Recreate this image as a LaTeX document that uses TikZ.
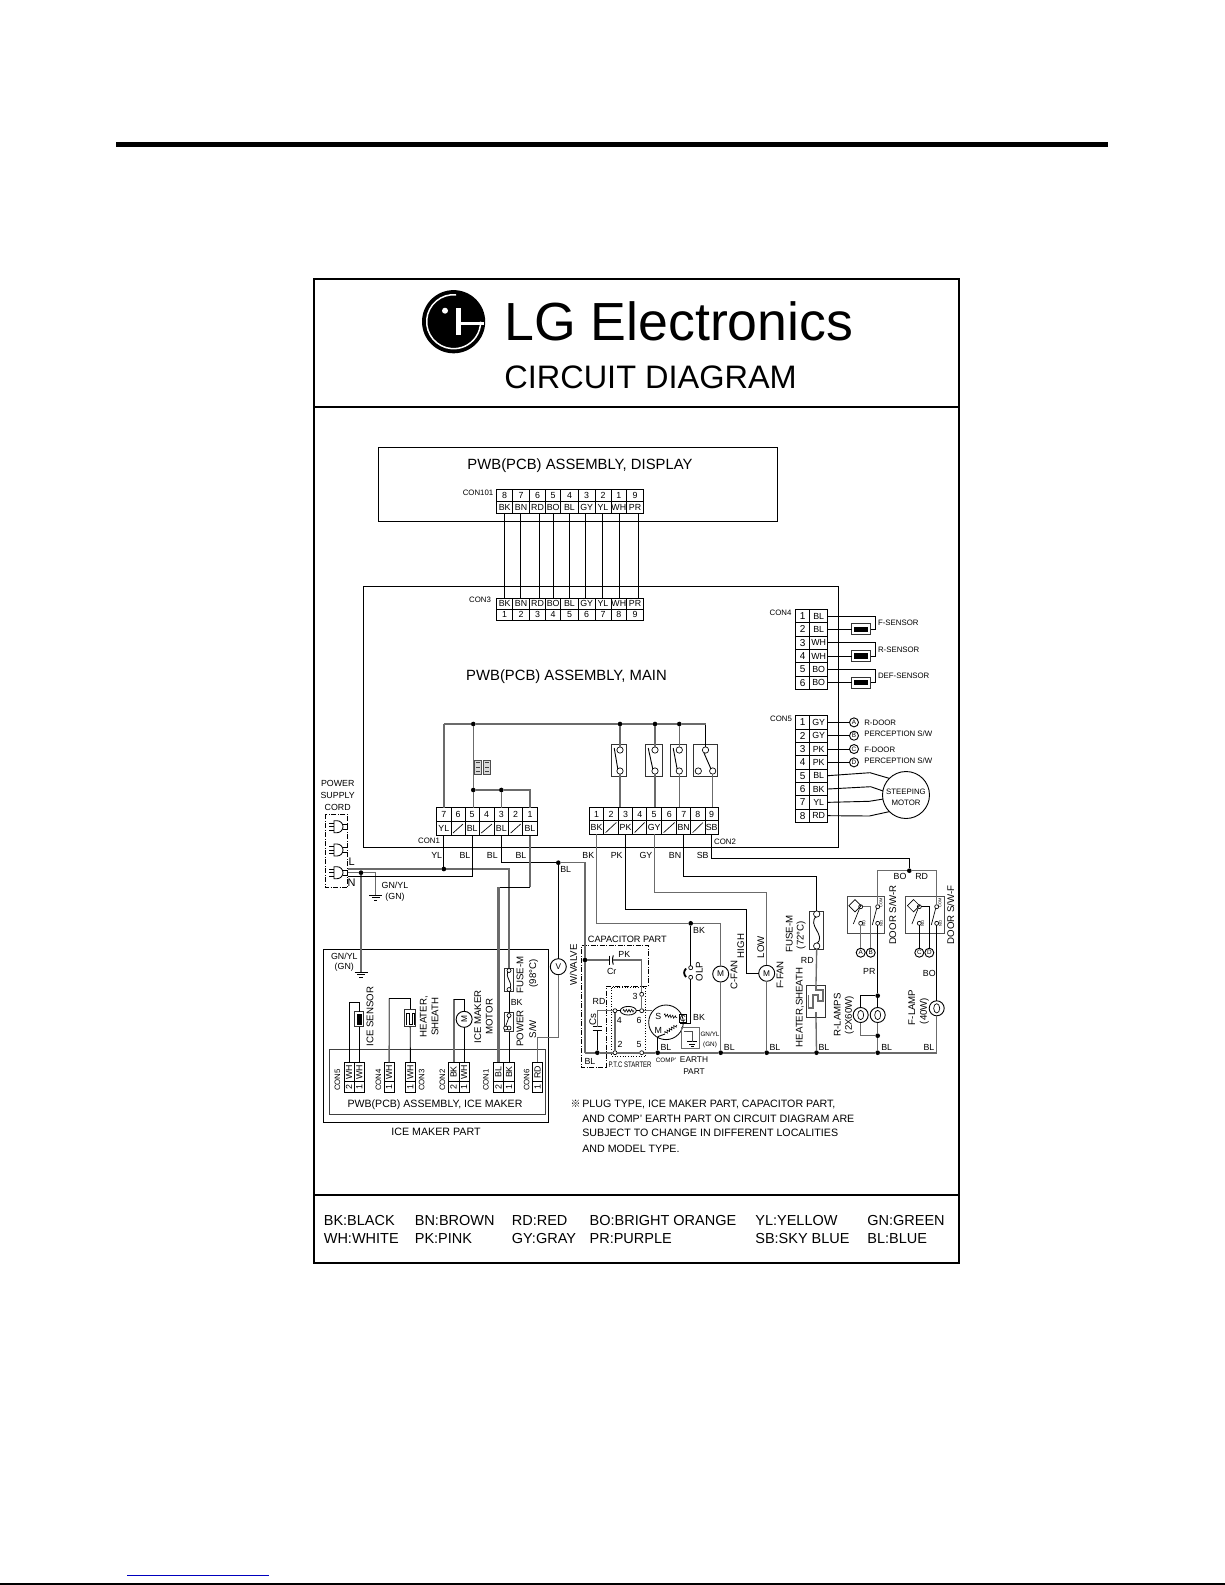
\documentclass[tikz,border=0pt]{standalone}
\usepackage{fontspec}
\setmainfont{Liberation Sans}
\newfontfamily\cjk{Noto Sans CJK SC}
\usepackage{tikz}
\usetikzlibrary{positioning, shapes.geometric, decorations.pathmorphing}
\def\pxu{0.6pt}
\definecolor{wiregray}{gray}{0.42}
\def\fs#1{\fontsize{#1pt}{#1pt}\selectfont}

\begin{document}
\begin{tikzpicture}[x=0.6pt, y=-0.6pt]
	\tikzstyle{wire}=[draw=black, line width=0.55pt]
	\tikzstyle{gwire}=[draw=wiregray, line width=0.8pt]
	\tikzstyle{gthick}=[draw=wiregray, line width=1.3pt]
	\tikzstyle{frame}=[draw=black, line width=1.2pt]
	\tikzstyle{board}=[draw=black, line width=0.6pt, inner sep=0pt, outer sep=0pt]
	\tikzstyle{pin cell}=[draw=black, line width=0.5pt, inner sep=0pt, outer sep=0pt, font=\fs{5.3}]
	\tikzstyle{jdot}=[circle, fill=black, inner sep=0pt, outer sep=0pt, minimum size=2.8pt]
	\tikzstyle{contact}=[circle, draw=black, fill=white, line width=0.4pt, inner sep=0pt, outer sep=0pt, minimum size=2.4pt]
	\tikzstyle{swcontact}=[contact, minimum size=3.8pt]
	\tikzstyle{load}=[circle, draw=black, fill=white, line width=0.55pt, inner sep=0pt, outer sep=0pt, minimum size=9.6pt, font=\fs{5}]
	\tikzstyle{letter}=[load, minimum size=5.4pt, font=\fs{3.8}]
	\tikzstyle{devbox}=[draw=black!80, fill=white, line width=0.5pt, inner sep=0pt, outer sep=0pt]
	\tikzstyle{lab}=[inner sep=0pt, text depth=0pt, font=\fs{5.3}]
	\tikzstyle{mid}=[inner sep=0pt, text depth=0pt, font=\fs{5.8}]
	\tikzstyle{tag}=[inner sep=0pt, text depth=0pt, font=\fs{4.7}]
	\tikzstyle{big}=[inner sep=0pt, text depth=0pt, font=\fs{8.9}]
	\tikzstyle{serp}=[draw=wiregray, line width=0.7pt]
	\tikzset{squiggle/.style={decorate, decoration={zigzag, amplitude=0.8pt, segment length=1.6pt}, line width=0.35pt}}

	\useasboundingbox (0,0) rectangle (1225,1585);

	% Page rules
	\fill (116,141.5) rectangle (1108,146.5);
	\draw[draw={rgb,255:red,0;green,0;blue,190}, line width=0.7pt] (127,1575.3) -- (269,1575.3);
	\draw[line width=1pt] (0,1584) -- (1225,1584);

	% Outer frame and its dividers
	\draw[frame] (314,279) rectangle (959,1263);
	\draw[frame] (314,407) -- (959,407);
	\draw[frame] (314,1195) -- (959,1195);

	% The logo and the title
	\node[circle, fill=black, inner sep=0pt, minimum size=63.2*\pxu] (logo) at (453.6,321.7) {};
	\draw[white, line width=0.9pt] (456,294.8) arc[start angle=-85, end angle=-360, radius=27];
	\fill[white] (456,308) rectangle (460.5,335);
	\fill[white] (460.5,322) rectangle (484,325);
	\fill[white] (445,310.7) circle[radius=3];
	\node[anchor=base west, inner sep=0pt, font=\fs{32.2}] (brand) at (504,340.7) {LG Electronics};
	\node[anchor=base west, inner sep=0pt, font=\fs{19.5}] (title) at (504,388.3) {CIRCUIT DIAGRAM};

	% Boards
	\node[board, minimum width=399*\pxu, minimum height=74*\pxu] (display) at (577.5,484) {};
	\node[board, minimum width=475.7*\pxu, minimum height=261*\pxu] (main) at (600.85,716.5) {};
	\node[big] (display-t) at (580,464) {PWB(PCB) ASSEMBLY, DISPLAY};
	\node[big] (main-t) at (566.5,675) {PWB(PCB) ASSEMBLY, MAIN};
	\node[tag] (con101) at (478,492.7) {CON101};
	\node[tag] (con3) at (480,600) {CON3};
	\node[tag] (con4) at (780.5,613) {CON4};
	\node[tag] (con5) at (781,718.7) {CON5};
	\node[tag] (con1) at (429,840.7) {CON1};
	\node[tag] (con2) at (725,841.3) {CON2};

	% Draw CON101 and CON3, and the wires between them
	\foreach \num/\colr/\xa/\xb/\wx [count=\i] in {8/BK/496.7/512.7/504.3, 7/BN/512.7/529.3/520.3, 6/RD/529.3/545.7/539.7, 5/BO/545.7/560.7/553.7, 4/BL/560.7/578.3/569.3, 3/GY/578.3/595/585.3, 2/YL/595/611/602.3, 1/WH/611/626.7/619.3, 9/PR/626.7/643.3/638.7} {
		\node[pin cell, minimum width={(\xb-\xa)*\pxu}, minimum height=12*\pxu] (D-\i) at ({(\xa+\xb)/2},495.3) {\num};
		\node[pin cell, minimum width={(\xb-\xa)*\pxu}, minimum height=12*\pxu] (DL-\i) at ({(\xa+\xb)/2},507.3) {\colr};
		\node[pin cell, minimum width={(\xb-\xa)*\pxu}, minimum height=11*\pxu] (ML-\i) at ({(\xa+\xb)/2},603.8) {\colr};
		\node[pin cell, minimum width={(\xb-\xa)*\pxu}, minimum height=11*\pxu] (M-\i) at ({(\xa+\xb)/2},614.8) {\i};
		\coordinate (DW-\i) at (\wx,513.3);
		\coordinate (MW-\i) at (\wx,598.3);
		\draw[wire] (DW-\i) -- (MW-\i);
	}

	% Draw CON4 with its sensors
	\foreach \colr [count=\i] in {BL,BL,WH,WH,BO,BO} {
		\node[pin cell, minimum width=14*\pxu, minimum height=13.33*\pxu, font=\fs{6}] (C4-\i) at (802.7,{609.3+13.33*(\i-0.5)}) {\i};
		\node[pin cell, minimum width=18*\pxu, minimum height=13.33*\pxu] (C4L-\i) at (818.7,{609.3+13.33*(\i-0.5)}) {\colr};
	}
	\coordinate (BRX) at (875,600);
	\foreach \a/\b/\sname [count=\i] in {1/2/F-SENSOR, 3/4/R-SENSOR, 5/6/DEF-SENSOR} {
		\node[devbox, minimum width=19*\pxu, minimum height=11*\pxu] (SN-\i) at (861.2,{609.3+13.33*(\b-0.5)}) {};
		\node[fill=black, inner sep=0pt, minimum width=14*\pxu, minimum height=5.6*\pxu] (SNI-\i) at (SN-\i) {};
		\draw[wire] (C4L-\a.east) -- (C4L-\a.east -| BRX) |- (SN-\i.east);
		\draw[wire] (C4L-\b.east) -- (SN-\i.west);
		\node[tag, anchor=west] (SNT-\i) at (877.7,{609.3+13.33*\a}) {\sname};
	}

	% Draw CON5, door perception tags and the steeping motor
	\foreach \colr [count=\i] in {GY,GY,PK,PK,BL,BK,YL,RD} {
		\node[pin cell, minimum width=14*\pxu, minimum height=13.33*\pxu, font=\fs{6}] (C5-\i) at (802.7,{715.7+13.33*(\i-0.5)}) {\i};
		\node[pin cell, minimum width=18*\pxu, minimum height=13.33*\pxu] (C5L-\i) at (818.7,{715.7+13.33*(\i-0.5)}) {\colr};
	}
	\foreach \mark/\txt/\ty [count=\i] in {A/{R-DOOR}/722.7, B/{PERCEPTION S/W}/733.3, C/{F-DOOR}/749.3, D/{PERCEPTION S/W}/760.7} {
		\node[letter] (TAG-\i) at (854,{715.7+13.33*(\i-0.5)}) {\mark};
		\draw[wire] (C5L-\i.east) -- (TAG-\i);
		\node[tag, anchor=west] (TAGT-\i) at (864,\ty) {\txt};
	}
	\node[circle, draw=black, line width=0.55pt, inner sep=0pt, outer sep=0pt, minimum size=47*\pxu] (SM) at (906,795) {};
	\node[tag] (SM-a) at (906,791.7) {STEEPING};
	\node[tag] (SM-b) at (906,802.3) {MOTOR};
	\draw[wire] (C5L-5.east) -- (870,772.7) -- (SM.135);
	\draw[wire] (C5L-6.east) -- (870.7,786.7) -- (SM.170);
	\draw[wire] (C5L-7.east) -- (869.3,801.3) -- (SM.190);
	\draw[wire] (C5L-8.east) -- (869.3,816) -- (SM.225);

	% Draw CON1 and CON2
	\foreach \num/\colr/\xa/\xb in {7/YL/436.7/451, 6/{}/451/465, 5/BL/465/479.3, 4/{}/479.3/494, 3/BL/494/508.7, 2/{}/508.7/522.7, 1/BL/522.7/537.3} {
		\node[pin cell, minimum width={(\xb-\xa)*\pxu}, minimum height=14*\pxu] (C1-\num) at ({(\xa+\xb)/2},814.7) {\num};
		\node[pin cell, minimum width={(\xb-\xa)*\pxu}, minimum height=14*\pxu] (C1L-\num) at ({(\xa+\xb)/2},828.7) {\colr};
		\ifodd \num \else \draw[line width=0.4pt] (\xa+2,833) -- (\xb-2,824); \fi
	}
	\foreach \num/\colr/\xa/\xb in {1/BK/589.3/603.7, 2/{}/603.7/618.3, 3/PK/618.3/632.7, 4/{}/632.7/646.7, 5/GY/646.7/661.7, 6/{}/661.7/676.7, 7/BN/676.7/690.7, 8/{}/690.7/705, 9/SB/705/718.3} {
		\node[pin cell, minimum width={(\xb-\xa)*\pxu}, minimum height=13.5*\pxu] (C2-\num) at ({(\xa+\xb)/2},814) {\num};
		\node[pin cell, minimum width={(\xb-\xa)*\pxu}, minimum height=13.5*\pxu] (C2L-\num) at ({(\xa+\xb)/2},827.5) {\colr};
		\ifodd \num \else \draw[line width=0.4pt] (\xa+2,832.5) -- (\xb-2,822.5); \fi
	}

	% Top rail of the main board with its relays
	\coordinate (TL) at (443.85,724);
	\node[jdot] (J-1) at (473.3,724) {};
	\node[jdot] (J-2) at (620,724) {};
	\node[jdot] (J-3) at (655,724) {};
	\node[jdot] (J-4) at (679.3,724) {};
	\coordinate (J-5) at (705.5,724);
	\node[jdot] (J-6) at (473.3,790) {};
	\node[jdot] (J-7) at (501.35,790) {};
	\coordinate (J-8) at (530,790);
	\foreach \i/\xa/\xb/\cx/\jn/\pin in {1/611.7/626.7/620/2/3, 2/645.7/662/655/3/5, 3/670.7/686.7/679.3/4/7} {
		\node[devbox, minimum width={(\xb-\xa)*\pxu}, minimum height=32*\pxu] (S-\i) at ({(\xa+\xb)/2},760) {};
		\node[swcontact] (S-\i-a) at (\cx,750) {};
		\node[swcontact] (S-\i-b) at (\cx,771) {};
		\draw[wire] (\xa+2.5,748) -- (\cx-2.2,769);
		\draw[gwire] (J-\jn) -- (S-\i-a);
		\draw[gwire] (S-\i-b) -- (S-\i-b |- C2-\pin.north);
	}
	\node[devbox, minimum width=24*\pxu, minimum height=32*\pxu] (S-4) at (705.3,760) {};
	\node[swcontact] (S-4-a) at (705.5,750) {};
	\node[swcontact] (S-4-b) at (698.3,771) {};
	\node[swcontact] (S-4-c) at (712.7,771) {};
	\draw[wire] (704,753) -- (711,769);
	\draw[wire] (J-5) -- (S-4-a);
	\draw[gwire] (S-4-c) -- (S-4-c |- C2-9.north);
	\draw[gwire] (C1-7.north) -- (TL);
	\draw[gthick] (TL) -- (J-1) -- (J-2) -- (J-3) -- (J-4);
	\draw[gwire] (J-4) -- (J-5);
	\draw[gwire] (J-1) -- (J-6);
	\draw[gwire] (J-6) -- (J-6 |- C1-5.north);
	\draw[gwire] (J-6) -- (J-7) -- (J-8) -- (C1-1.north);
	\draw[gwire] (J-7) -- (C1-3.north);
	% Small part on the rail
	\node[draw=black!70, fill=black!15, line width=0.4pt, inner sep=0pt, minimum width=7.3*\pxu, minimum height=14*\pxu] (TR-a) at (477.7,767) {};
	\node[draw=black!70, fill=black!15, line width=0.4pt, inner sep=0pt, minimum width=6.7*\pxu, minimum height=14*\pxu] (TR-b) at (486.7,767) {};
	\foreach \tx in {477.7,486.7} {
		\foreach \ty in {762.5,767,771.5} { \draw[line width=0.6pt, black!75] (\tx-1.8,\ty) -- (\tx+1.8,\ty); }
	}

	% Power supply cord
	\draw[densely dashdotted, line width=0.5pt] (325,814.3) rectangle (347.7,887.3);
	\foreach \i/\py in {1/826.7, 2/850, 3/872.7} {
		\draw[line width=0.5pt] (334,\py-6) -- (337,\py-6) arc[start angle=-90, end angle=90, radius=6] -- (334,\py+6) -- cycle;
		\foreach \dy in {-3.5,0,3.5} { \draw[line width=0.4pt] (329,\py+\dy) -- (334,\py+\dy); }
		\draw[line width=0.4pt] (343,\py-2.5) -- (347.7,\py-2.5);
		\draw[line width=0.4pt] (343,\py+2.5) -- (347.7,\py+2.5);
	}
	\coordinate (PL) at (347.7,869);
	\coordinate (PG) at (347.7,872.7);
	\coordinate (PN) at (347.7,876.3);
	\node[jdot] (J-L) at (443.85,869) {};
	\node[jdot] (J-G) at (361,872.7) {};
	\node[jdot] (J-V) at (558.3,862.7) {};
	\node[jdot] (J-C) at (585,960) {};
	\coordinate (GND-1) at (375.7,895);
	\coordinate (GND-2) at (361,972.3);

	% Ground symbols
	\foreach \gx/\gy/\gw in {375.7/895/6.5, 361/972.3/6.5, 692.3/1041.7/5} {
		\draw[line width=0.5pt] (\gx-\gw,\gy) -- (\gx+\gw,\gy);
		\draw[line width=0.5pt] (\gx-0.6*\gw,\gy+2.6) -- (\gx+0.6*\gw,\gy+2.6);
		\draw[line width=0.5pt] (\gx-0.25*\gw,\gy+5) -- (\gx+0.25*\gw,\gy+5);
	}

	% Ice maker part
	\draw[line width=0.5pt] (323.3,949.3) rectangle (548.7,1122.3);
	\node[board, draw=black!75, minimum width=216*\pxu, minimum height=64.7*\pxu] (ice) at (437.3,1081.65) {};
	\node[inner sep=0pt, text depth=0pt, font=\fs{6.35}] (ice-t) at (435,1103.3) {PWB(PCB) ASSEMBLY, ICE MAKER};
	\node[inner sep=0pt, text depth=0pt, font=\fs{6.4}] (ice-n) at (436,1131.3) {ICE MAKER PART};
	\foreach \id/\num/\colr/\xa/\xb in {5a/2/WH/344/354.3, 5b/1/WH/354.3/364.3, 4a/1/WH/384/394.3, 3a/1/WH/405/415.7, 2a/2/BK/448.3/459, 2b/1/WH/459/469.3, 1a/2/BL/493.2/503.7, 1b/1/BK/503.7/514.3, 6a/1/RD/532.3/542.7} {
		\node[pin cell, minimum width={(\xb-\xa)*\pxu}, minimum height=19.4*\pxu] (IL-\id) at ({(\xa+\xb)/2},1072) {\rotatebox{90}{\colr}};
		\node[pin cell, minimum width={(\xb-\xa)*\pxu}, minimum height=11*\pxu] (IN-\id) at ({(\xa+\xb)/2},1087.2) {\rotatebox{90}{\num}};
	}
	\foreach \txt/\cx [count=\i] in {CON5/337.3, CON4/378.3, CON3/421.7, CON2/442.3, CON1/486, CON6/526.7} {
		\node[tag, rotate=90] (ICON-\i) at (\cx,1080) {\txt};
	}
	\node[devbox, minimum width=9*\pxu, minimum height=15*\pxu] (ISN) at (359.3,1019.2) {};
	\node[fill=black, inner sep=0pt, minimum width=5.6*\pxu, minimum height=11*\pxu] (ISN-i) at (359.3,1019.2) {};
	\node[devbox, minimum width=11*\pxu, minimum height=17.4*\pxu] (IHT) at (410.2,1018) {};
	\draw[draw=black, line width=0.4pt] (406,1025) -- (406,1013) -- (409,1013) -- (409,1024) -- (412,1024) -- (412,1013) -- (414.5,1013) -- (414.5,1025);
	\node[load] (IMT) at (464.15,1019.3) {\rotatebox{90}{M}};
	\coordinate (K-5) at (349.15,1002.3);
	\coordinate (K-4) at (389.2,998.3);
	\coordinate (K-2) at (453.65,999);
	\draw[wire] (IL-5a.north) -- (K-5) -| (ISN.north);
	\draw[wire] (ISN.south) -- (ISN.south |- IL-5b.north);
	\draw[gwire] (IL-4a.north) -- (K-4);
	\draw[wire] (K-4) -| (IHT.north);
	\draw[wire] (IHT.south) -- (IL-3a.north);
	\draw[gthick] (IL-2a.north) -- (K-2);
	\draw[wire] (K-2) -| (IMT.north);
	\draw[wire] (IMT.south) -- (IL-2b.north);
	\node[devbox, minimum width=9.7*\pxu, minimum height=23.4*\pxu] (FI) at (509,980) {};
	\draw[line width=0.45pt] (509,970) .. controls (503,977) and (515,983) .. (509,990);
	\node[contact] (FI-a) at (509,970.5) {};
	\node[contact] (FI-b) at (509,989.5) {};
	\node[devbox, minimum width=9.7*\pxu, minimum height=19*\pxu] (PW) at (509,1022.2) {};
	\node[contact] (PW-a) at (509,1015.5) {};
	\node[contact] (PW-b) at (509,1028) {};
	\node[contact] (PW-c) at (505.6,1028) {};
	\draw[line width=0.4pt] (505.6,1026.5) -- (509,1017);
	\draw[wire] (FI.south) -- (PW.north);
	\draw[wire] (PW.south) -- (IL-1b.north);

	% Loads outside the boards
	\node[load] (VV) at (558.3,966.7) {V};
	\node[load] (MC) at (720.7,974) {M};
	\node[load] (MF) at (766.7,973.3) {M};
	\node[contact] (OLP-a) at (690.7,967.7) {};
	\node[contact] (OLP-b) at (690.7,977.3) {};
	\draw[line width=1.1pt] (686,968.5) .. controls (683.5,971.5) and (683.5,974) .. (686,977);

	% P.T.C starter, capacitors and compressor
	\draw[densely dashdotted, line width=0.5pt] (581.7,945.7) -- (648.3,945.7) -- (648.3,986) -- (606.7,986) -- (606.7,1067.7) -- (581.7,1067.7) -- cycle;
	\draw[densely dotted, line width=0.6pt] (611.7,987.7) rectangle (645.7,1056.7);
	\node[contact] (CT-3) at (641.7,994.3) {};
	\node[contact] (CT-6) at (641.7,1010.7) {};
	\node[contact] (CT-4) at (615,1010.7) {};
	\node[contact] (CT-2) at (615,1052.7) {};
	\node[contact] (CT-5) at (641.7,1052.7) {};
	\node[ellipse, draw=black, line width=0.5pt, inner sep=0pt, outer sep=0pt, minimum width=16*\pxu, minimum height=8.6*\pxu] (PTC) at (628.3,1010.7) {};
	\draw[squiggle] (623,1010.7) -- (634,1010.7);
	\coordinate (Cr-a) at (609.3,960);
	\coordinate (Cr-b) at (613.3,960);
	\draw[line width=0.6pt] (609.3,955.5) -- (609.3,964.5);
	\draw[line width=0.6pt] (613.3,955.5) .. controls (612.3,958) and (612.3,962) .. (613.3,964.5);
	\coordinate (Cs-a) at (597.3,1026.7);
	\coordinate (Cs-b) at (597.3,1030.7);
	\draw[line width=0.6pt] (592.7,1026.7) -- (601.9,1026.7);
	\draw[line width=0.6pt] (592.7,1030.7) -- (601.9,1030.7);
	\node[circle, draw=black, line width=0.5pt, inner sep=0pt, outer sep=0pt, minimum size=34.6*\pxu] (comp) at (666,1022.3) {};
	\node[lab] (comp-s) at (658.3,1016) {S};
	\node[lab] (comp-m) at (658.3,1030) {M};
	\node[draw=black, line width=0.4pt, inner sep=0.4pt, font=\fs{5}] (comp-c) at (683,1018.3) {C};
	\draw[squiggle] (664,1015) -- (677,1017.5);
	\draw[squiggle] (665,1033) -- (677,1025);
	\coordinate (S-t) at (652,1010.7);
	\coordinate (M-t) at (657.7,1036.7);
	\coordinate (C-t) at (680,1023.3);
	\node[draw=wiregray, line width=0.5pt, inner sep=0pt, minimum width=17.3*\pxu, minimum height=21*\pxu] (earth) at (690.3,1037.8) {};
	\draw[draw=black!70, line width=0.5pt] (683.5,1031.7) -- (692.3,1031.7) -- (692.3,1041.7);

	% The blue bus at the bottom
	\coordinate (B-0) at (585,1052.7);
	\node[jdot] (B-1) at (597.3,1052.7) {};
	\node[jdot] (B-2) at (657.7,1052.7) {};
	\node[jdot] (B-3) at (720.7,1052.7) {};
	\node[jdot] (B-4) at (766.7,1052.7) {};
	\node[jdot] (B-5) at (816.5,1052.7) {};
	\node[jdot] (B-6) at (877.7,1052.7) {};
	\coordinate (B-7) at (936.7,1052.7);
	\draw[gthick] (B-0) -- (B-1) -- (CT-2) -- (CT-5) -- (B-2) -- (B-3) -- (B-4) -- (B-5) -- (B-6) -- (B-7);

	% Fan side devices
	\node[jdot] (J-bk) at (690.7,923.3) {};
	\coordinate (K-pk) at (746.7,909);
	\coordinate (K-gy) at (766.7,892.3);
	\coordinate (K-bn) at (816.7,876);
	\coordinate (K-sb) at (909.3,858.3);
	\node[jdot] (J-sb) at (909.3,870.7) {};

	% Fuse and heater
	\node[devbox, minimum width=14*\pxu, minimum height=38*\pxu] (FU) at (816.7,930) {};
	\draw[line width=0.5pt] (816.7,916) .. controls (806,925) and (827,935) .. (816.7,944);
	\node[swcontact] (FU-a) at (816.7,914) {};
	\node[swcontact] (FU-b) at (816.7,946) {};
	\node[devbox, minimum width=18.6*\pxu, minimum height=32.3*\pxu] (HEAT) at (816,1001.2) {};
	\draw[serp] (816,985) -- (816,990) -- (823,990) -- (823,1001) -- (818,1001) -- (818,995) -- (813,995) -- (813,1008) -- (808.5,1008) -- (808.5,995);
	\draw[serp] (816,1012) -- (816,1017);

	% Door switches
	\node[devbox, draw=black!70, fill=none, minimum width=37*\pxu, minimum height=37.4*\pxu] (DR) at (866,915) {};
	\node[devbox, draw=black!70, fill=none, minimum width=38.6*\pxu, minimum height=37.4*\pxu] (DF) at (925,915) {};
	\foreach \pre/\xa/\xb in {DR/860.7/877.7, DF/919.3/936.7} {
		\node[contact] (\pre-1) at (\xa,906.7) {};
		\node[contact] (\pre-2) at (\xa,923.3) {};
		\node[contact] (\pre-3) at (\xb,906.7) {};
		\node[contact] (\pre-4) at (\xb,923.3) {};
		\node[draw=black, line width=0.4pt, rotate=45, inner sep=0pt, minimum size=5.2pt] (\pre-d) at (\xa-5.7,905.7) {};
		\draw[line width=0.4pt] (\xa-7.4,924) -- (\xa-1.4,909);
		\draw[line width=0.4pt] (\xb-5.4,925) -- (\xb-1,908.3);
		\node[rotate=90, inner sep=0pt, font=\fs{2.4}] (\pre-t1) at (\xb+3.4,902.5) {COM};
		\node[rotate=90, inner sep=0pt, font=\fs{2.4}] (\pre-t2) at (\xb+3.8,923.3) {NO};
		\node[rotate=90, inner sep=0pt, font=\fs{2.4}] (\pre-t3) at (\xa+3.4,923) {NO};
	}
	\node[letter] (A-c) at (860.7,952.7) {A};
	\node[letter] (B-c) at (870.7,952.7) {B};
	\node[letter] (C-c) at (919.3,952.7) {C};
	\node[letter] (D-c) at (929.3,952.7) {D};
	\node[load, minimum size=9pt] (RL1) at (860.7,1015) {};
	\node[load, minimum size=9pt] (RL2) at (877.7,1015) {};
	\node[load, minimum size=9pt] (FL) at (936.7,1008.3) {};
	\foreach \lamp in {RL1,RL2,FL} {
		\node[ellipse, draw=black, line width=0.4pt, inner sep=0pt, minimum width=3.6pt, minimum height=5.6pt] (\lamp-i) at (\lamp) {};
	}
	\node[jdot] (J-r1) at (877.7,995.7) {};
	\node[jdot] (J-r2) at (877.7,1035.7) {};

	% Wires below CON1
	\draw[wire] (C1L-7.south) -- (J-L);
	\draw[gwire] (PL) -- (J-L) -| (FI.north);
	\draw[gwire] (PG) -- (J-G) -| (GND-1);
	\draw[gthick] (J-G) -- (GND-2);
	\draw[wire] (C1L-5.south) |- (PN);
	\draw[wire] (C1L-3.south) |- (J-V);
	\draw[gwire] (J-V) -| (J-C);
	\draw[gwire] (J-C) -- (B-0);
	\coordinate (K-a) at (530,887.3);
	\coordinate (K-b) at (498.45,887.3);
	\draw[gwire] (C1L-1.south) -- (K-a);
	\draw[wire] (K-a) -- (K-b);
	\draw[gthick] (K-b) -- (IL-1a.north);
	\draw[wire] (J-V) -- (VV);
	\coordinate (K-v) at (558.3,1037.3);
	\draw[gwire] (VV) -- (K-v) -| (IL-6a.north);

	% Wires below CON2
	\draw[gwire] (C2L-1.south) |- (J-bk);
	\draw[gwire] (J-bk) -| (MC.north);
	\draw[gwire] (MC.south) -- (B-3);
	\draw[wire] (J-bk) -- (OLP-a);
	\draw[wire] (OLP-b) |- (C-t);
	\draw[wire] (C2L-3.south) |- (K-pk);
	\draw[wire] (K-pk) |- (MF.west);
	\draw[gwire] (C2L-5.south) |- (K-gy);
	\draw[gwire] (K-gy) -- (MF.north);
	\draw[gwire] (MF.south) -- (B-4);
	\draw[wire] (C2L-7.south) |- (K-bn);
	\draw[wire] (K-bn) -- (FU.north);
	\draw[gwire] (FU.south) -- (HEAT.north);
	\draw[gwire] (HEAT.south) -- (B-5);
	\draw[wire] (C2L-9.south) |- (K-sb);
	\draw[wire] (K-sb) -- (J-sb);
	\draw[gwire] (J-sb) -| (DR-3);
	\draw[gwire] (J-sb) -| (DF-3);

	% Capacitor and starter wiring
	\draw[gwire] (J-C) -- (Cr-a);
	\draw[gwire] (Cr-b) -| (CT-3);
	\draw[gwire] (CT-3) -- (CT-6);
	\draw[wire] (CT-6) -- (PTC);
	\draw[wire] (PTC) -- (CT-4);
	\draw[gwire] (CT-4) -- (CT-2);
	\draw[gwire] (CT-4) -| (Cs-a);
	\draw[wire] (Cs-b) -- (B-1);
	\draw[gwire] (CT-6) -- (S-t);
	\draw[wire] (M-t) -- (B-2);
	\draw[wire] (M-t) -- (665,1034);

	% Door switch and lamp wiring
	\coordinate (K-B) at (870.7,906.7);
	\coordinate (K-D) at (929.3,906.7);
	\draw[gwire] (DR-1) -- (K-B) -- (B-c);
	\draw[gwire] (DR-2) -- (A-c);
	\draw[wire] (DR-4) -- (J-r1);
	\draw[wire] (DF-1) -- (K-D) -- (D-c);
	\draw[wire] (DF-2) -- (C-c);
	\draw[wire] (DF-4) -- (FL);
	\draw[wire] (J-r1) -| (RL1);
	\draw[wire] (J-r1) -- (RL2);
	\draw[gwire] (RL2) -- (J-r2);
	\draw[gwire] (RL1) |- (J-r2);
	\draw[gwire] (J-r2) -- (B-6);
	\draw[gwire] (FL) -- (B-7);

	% Annotate the wires
	\foreach \txt/\px/\py [count=\i] in {YL/436.7/855, BL/465/855, BL/492.3/855, BL/521/855, BK/588.3/855, PK/616.7/855, GY/646/855, BN/675/855, SB/702.7/855, BL/565.7/869, BO/900/876.7, RD/921.7/876.7, BK/699/930.7, BK/699/1017.3, BL/666/1047, BL/729.3/1047.5, BL/775/1047.5, BL/824/1047.3, BL/886.7/1047.3, BL/929/1047.3, PR/869.3/971.7, BO/929.3/973, RD/807.3/960.7, PK/624.3/954.3, Cr/611.7/971.7, RD/599/1001, BL/590/1061, 3/635/996, 4/619.3/1020.7, 6/639/1020, 2/620/1044.3, 5/639/1044.3, BK/516.7/1002.3} {
		\node[lab] (W-\i) at (\px,\py) {\txt};
	}
	\node[inner sep=0pt, text depth=0pt, font=\fs{6.6}] (W-L) at (351.7,862) {L};
	\node[inner sep=0pt, text depth=0pt, font=\fs{6.6}] (W-N) at (351.7,883) {N};
	\foreach \txt/\px/\py [count=\i] in {{W/VALVE}/573.3/965, ICE SENSOR/370/1016.7, {HEATER,}/423.3/1016.7, SHEATH/435/1016.7, ICE MAKER/477.7/1016.7, MOTOR/489.3/1016.7, FUSE-M/520/975, (98°C)/532.7/973.3, POWER/520/1028.3, {S/W}/532.7/1029, C-FAN/734/975, HIGH/740.7/946, LOW/760.7/947.3, F-FAN/780/975, OLP/699.3/971.7, FUSE-M/789.3/934, (72°C)/800/935, {HEATER,SHEATH}/799.3/1007.3, R-LAMPS/837.3/1015, (2X60W)/848.3/1015, F-LAMP/911.7/1007.3, (40W)/923.3/1011, {DOOR S/W-R}/892.7/915, {DOOR S/W-F}/950.7/915, Cs/592.7/1019.3} {
		\node[mid, rotate=90] (V-\i) at (\px,\py) {\txt};
	}
	\node[lab] (PSC-1) at (337.7,783.3) {POWER};
	\node[lab] (PSC-2) at (337.7,795.3) {SUPPLY};
	\node[lab] (PSC-3) at (337.7,807.7) {CORD};
	\node[lab] (GY-1) at (395,885.7) {GN/YL};
	\node[lab] (GY-2) at (395,896.7) {(GN)};
	\node[lab] (GY-3) at (344.3,956) {GN/YL};
	\node[lab] (GY-4) at (344.3,966.7) {(GN)};
	\node[inner sep=0pt, text depth=0pt, font=\fs{3.8}] (GY-5) at (710,1034.3) {GN/YL};
	\node[inner sep=0pt, text depth=0pt, font=\fs{3.8}] (GY-6) at (710,1044) {(GN)};
	\node[inner sep=0pt, text depth=0pt, font=\fs{5.5}] (cap-t) at (627.3,939) {CAPACITOR PART};
	\node[inner sep=0pt, font=\fs{5}] (earth-a) at (694,1059.3) {EARTH};
	\node[inner sep=0pt, font=\fs{5}] (earth-b) at (694,1071.3) {PART};
	\node[inner sep=0pt, font=\fs{3.8}] (comp-t) at (666,1060.3) {COMP'};
	\node[inner sep=0pt, font=\fs{4.8}] (ptc-t) at (630,1065) {\scalebox{.75}[1]{P.T.C STARTER}};

	% The note
	\node[inner sep=0pt, font=\fs{6}\cjk] (note-0) at (575.6,1103.3) {※};
	\foreach \txt/\py [count=\i] in {{PLUG TYPE, ICE MAKER PART, CAPACITOR PART,}/1103.3, {AND COMP' EARTH PART ON CIRCUIT DIAGRAM ARE}/1118.3, {SUBJECT TO CHANGE IN DIFFERENT LOCALITIES}/1132.7, {AND MODEL TYPE.}/1148.3} {
		\node[anchor=west, inner sep=0pt, text depth=0pt, font=\fs{6.4}] (note-\i) at (582,\py) {\txt};
	}

	% Colour legend
	\foreach \txt/\px/\py [count=\i] in {BK:BLACK/323.5/1220, BN:BROWN/414.5/1220, RD:RED/511.5/1220, BO:BRIGHT ORANGE/589.3/1220, YL:YELLOW/755/1220, GN:GREEN/867/1220, WH:WHITE/323.5/1238.3, PK:PINK/414.5/1238.3, GY:GRAY/511.5/1238.3, PR:PURPLE/589.3/1238.3, SB:SKY BLUE/755/1238.3, BL:BLUE/867/1238.3} {
		\node[anchor=west, inner sep=0pt, font=\fs{8.7}] (key-\i) at (\px,\py) {\txt};
	}
\end{tikzpicture}
\end{document}
